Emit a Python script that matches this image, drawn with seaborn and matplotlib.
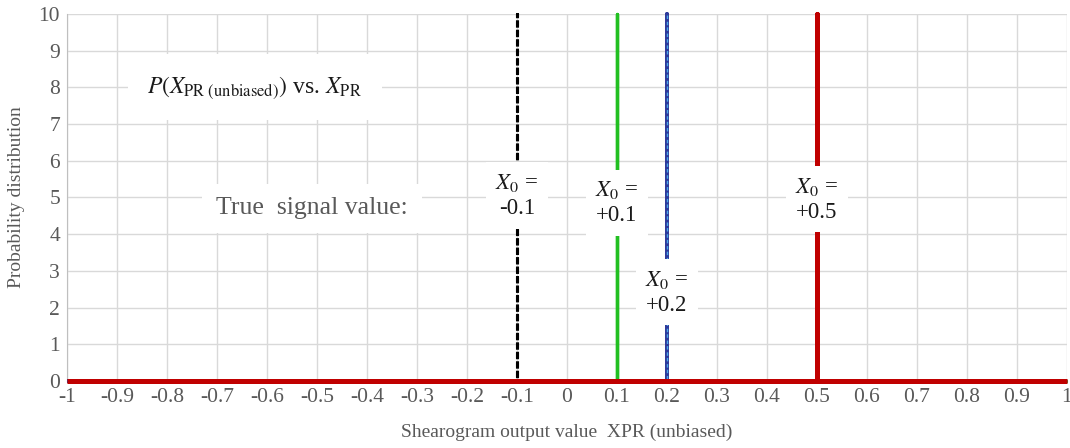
import numpy as np
import pandas as pd
import matplotlib
matplotlib.use("Agg")
import matplotlib.pyplot as plt
import seaborn as sns

# true signal values and the delta-like distributions drawn for each
x0_values = [-0.1, 0.1, 0.2, 0.5]
x0_labels = ["-0.1", "+0.1", "+0.2", "+0.5"]
spike_height = 10
x_range = [-1, 1]
# where the "X0 =" labels sit (y in data units)
label_y = [5.05, 4.85, 2.42, 4.95]

xticks = np.round(np.arange(-1, 1.01, 0.1), 1)
xtick_labels = ["-1", "-0.9", "-0.8", "-0.7", "-0.6", "-0.5", "-0.4", "-0.3", "-0.2", "-0.1",
                "0", "0.1", "0.2", "0.3", "0.4", "0.5", "0.6", "0.7", "0.8", "0.9", "1"]
yticks = list(range(0, 11))

sns.set_style("whitegrid")
plt.rcParams['font.family'] = ['Liberation Serif', 'DejaVu Serif']
plt.rcParams['mathtext.fontset'] = 'stix'

rows = []
for x0 in x0_values:
    xs = [x_range[0], x0, x0, x0, x_range[1]]
    ys = [0, 0, spike_height, 0, 0]
    for i, (x, y) in enumerate(zip(xs, ys)):
        rows.append({'x0': x0, 'order': i, 'x': x, 'y': y})
df = pd.DataFrame(rows)

fig = plt.figure(figsize=(10.7, 4.48), dpi=100)
ax = fig.add_axes([0.0626, 0.1496, 0.9344, 0.8195])

styles = {
    -0.1: dict(color='black', lw=2.2, ls=(0, (2.0, 1.1))),
    0.1: dict(color='#22c022', lw=2.4, ls='-'),
    0.2: dict(color='#2e3a9a', lw=2.8, ls='-'),
    0.5: dict(color='#c00000', lw=3.6, ls='-'),
}
for x0 in x0_values:
    sub = df[df['x0'] == x0]
    st = styles[x0]
    sns.lineplot(data=sub, x='x', y='y', sort=False, estimator=None, ax=ax,
                 color=st['color'], linewidth=st['lw'], zorder=3)
    line = ax.lines[-1]
    line.set_linestyle(st['ls'])
    line.set_clip_on(False)
    line.set_solid_capstyle('butt')
    line.set_dash_capstyle('butt')
    if x0 == 0.2:
        sns.lineplot(data=sub, x='x', y='y', sort=False, estimator=None, ax=ax,
                     color='#4aa8e8', linewidth=1.0, zorder=3)
        ax.lines[-1].set_linestyle((0, (2.5, 6)))

box = dict(facecolor='white', edgecolor='none', pad=7)
for x0, lab, ly in zip(x0_values, x0_labels, label_y):
    ax.text(x0, ly, "$X_0$ =\n" + lab, ha='center', va='center', fontsize=16.5,
            color='#1a1a1a', bbox=box, zorder=5, linespacing=1.25)

ax.text(-0.624, 8.0, r"$P(X_{\mathrm{PR\ (unbiased)}})$ vs. $X_{\mathrm{PR}}$", ha='center', va='center',
        fontsize=17, color='#1a1a1a', bbox=dict(facecolor='white', edgecolor='none', pad=14), zorder=5)
ax.text(-0.51, 4.7, "True  signal value:", ha='center', va='center', fontsize=18.5,
        color='#595959', bbox=dict(facecolor='white', edgecolor='none', pad=10), zorder=5)

ax.set_xlim(-1, 1)
ax.set_ylim(0, 10)
ax.set_xticks(xticks)
ax.set_xticklabels(xtick_labels)
ax.set_yticks(yticks)
ax.tick_params(axis='both', labelsize=15.5, labelcolor='#595959', length=0, pad=5)
ax.grid(True, color='#d9d9d9', linewidth=1)
ax.set_xlabel("Shearogram output value  XPR (unbiased)", fontsize=14, color='#595959', labelpad=12)
ax.set_ylabel("Probability distribution", fontsize=14, color='#595959', labelpad=10)
for s in ['top', 'right']:
    ax.spines[s].set_visible(False)
ax.spines['left'].set_color('#bfbfbf')
ax.spines['bottom'].set_color('#bfbfbf')

fig.savefig("out.png", dpi=100)
